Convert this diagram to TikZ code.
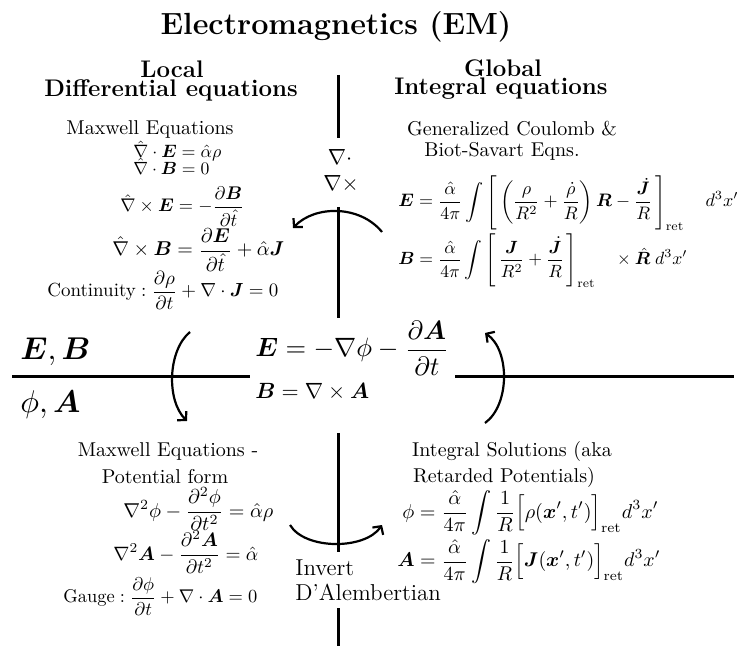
\documentclass[tikz,border=0pt]{standalone}
\usepackage{amsmath,bm,graphicx}
\usetikzlibrary{arrows.meta}
\newcommand{\fitw}[2]{\resizebox{#1}{!}{#2}}
\begin{document}
\begin{tikzpicture}[x=0.5pt,y=-0.5pt,
  axisline/.style={line width=1.5pt},
  turn/.style={line width=1.1pt,-{Straight Barb[length=3pt,width=6.5pt]}},
  eq/.style={anchor=base west,inner sep=0pt},
  lbl/.style={inner sep=0pt,font=\normalsize},
  head/.style={inner sep=0pt,font=\large\bfseries,anchor=base},
]
\useasboundingbox (0,0) rectangle (739,646);

% title and headings
\node[inner sep=0pt,font=\fontsize{15.3}{18}\selectfont\bfseries] (title) at (336,27) {Electromagnetics (EM)};
\node[head] (local) at (172,78) {Local};
\node[head] (diff) at (171,97) {Differential equations};
\node[head] (global) at (503,77) {Global};
\node[head] (integ) at (501,95) {Integral equations};

% axes
\coordinate (v1) at (338,75);  \coordinate (v2) at (338,138);
\coordinate (v3) at (338,207); \coordinate (v4) at (338,318);
\coordinate (v5) at (338,433); \coordinate (v6) at (338,552);
\coordinate (v7) at (338,608); \coordinate (v8) at (338,646);
\coordinate (h1) at (12,377);  \coordinate (h2) at (250,377);
\coordinate (h3) at (455,377); \coordinate (h4) at (734,377);
\draw[axisline] (v1) -- (v2);
\draw[axisline] (v3) -- (v4);
\draw[axisline] (v5) -- (v6);
\draw[axisline] (v7) -- (v8);
\draw[axisline] (h1) -- (h2);
\draw[axisline] (h3) -- (h4);

% centre operators
\node[inner sep=0pt,font=\fontsize{11}{13}\selectfont] (div) at (340,157) {$\nabla\cdot$};
\node[inner sep=0pt,font=\fontsize{11}{13}\selectfont] (curl) at (341,184) {$\nabla\times$};

% turning arrows
\coordinate (ta) at (382,232); \coordinate (tb) at (293,228);
\draw[turn] (ta) .. controls (360,205) and (315,205) .. (tb);
\coordinate (la) at (190,332); \coordinate (lb) at (187,421);
\draw[turn] (la) .. controls (168,350) and (166,400) .. (lb);
\coordinate (ra) at (485,423); \coordinate (rb) at (485,333);
\draw[turn] (ra) .. controls (510,405) and (510,350) .. (rb);
\coordinate (ba) at (290,525); \coordinate (bb) at (382,525);
\draw[turn] (ba) .. controls (305,550) and (365,550) .. (bb);

% top-left: Maxwell equations
\node[lbl] (mx) at (150,130) {Maxwell Equations};
\node[eq] (m1) at (133,158) {\fitw{44pt}{$\hat{\nabla}\cdot\bm{E}=\hat{\alpha}\rho$}};
\node[eq] (m2) at (133,175) {\fitw{38pt}{$\hat{\nabla}\cdot\bm{B}=0$}};
\node[eq] (m3) at (120,212) {\fitw{62pt}{$\hat{\nabla}\times\bm{E}=-\dfrac{\partial\bm{B}}{\partial\hat{t}}$}};
\node[eq] (m4) at (112,256) {\fitw{86pt}{$\hat{\nabla}\times\bm{B}=\dfrac{\partial\bm{E}}{\partial\hat{t}}+\hat{\alpha}\bm{J}$}};
\node[eq] (m5) at (47,297) {\fitw{115.5pt}{$\text{Continuity}:\dfrac{\partial\rho}{\partial t}+\nabla\cdot\bm{J}=0$}};

% top-right: Coulomb / Biot-Savart
\node[lbl] (gc) at (512,129) {Generalized Coulomb \&};
\node[lbl] (bs) at (502,151) {Biot-Savart Eqns.};
\node[eq] (je) at (398,207) {\fitw{170pt}{$\bm{E}=\dfrac{\hat{\alpha}}{4\pi}\displaystyle\int\left[\,\left(\frac{\rho}{R^2}+\frac{\dot{\rho}}{R}\right)\bm{R}-\frac{\dot{\bm{J}}}{R}\,\right]_{\mathrm{ret}}\quad d^3x'$}};
\node[eq] (jb) at (398,265) {\fitw{144.5pt}{$\bm{B}=\dfrac{\hat{\alpha}}{4\pi}\displaystyle\int\left[\,\frac{\bm{J}}{R^2}+\frac{\dot{\bm{J}}}{R}\,\right]_{\mathrm{ret}}\quad\times\hat{\bm{R}}\;d^3x'$}};

% centre
\node[eq] (eb) at (20,360) {\fitw{35pt}{$\bm{E},\bm{B}$}};
\node[eq] (pa) at (20,413) {\fitw{30pt}{$\phi,\bm{A}$}};
\node[eq] (ce) at (255,357) {\fitw{97pt}{$\bm{E}=-\nabla\phi-\dfrac{\partial\bm{A}}{\partial t}$}};
\node[eq] (cb) at (255,399) {\fitw{57pt}{$\bm{B}=\nabla\times\bm{A}$}};

% bottom-left: potential form
\node[lbl] (mp1) at (168,452) {Maxwell Equations -};
\node[lbl] (mp2) at (165,477) {Potential form};
\node[eq] (p1) at (123,517) {\fitw{75pt}{$\nabla^2\phi-\dfrac{\partial^2\phi}{\partial t^2}=\hat{\alpha}\rho$}};
\node[eq] (p2) at (113,560) {\fitw{72.5pt}{$\nabla^2\bm{A}-\dfrac{\partial^2\bm{A}}{\partial t^2}=\hat{\alpha}$}};
\node[eq] (p3) at (63,603) {\fitw{97pt}{$\text{Gauge}:\dfrac{\partial\phi}{\partial t}+\nabla\cdot\bm{A}=0$}};

% bottom-right: retarded potentials
\node[lbl] (is1) at (512,452) {Integral Solutions (aka};
\node[lbl] (is2) at (504,478) {Retarded Potentials)};
\node[eq] (r1) at (402,518) {\fitw{128pt}{$\phi=\dfrac{\hat{\alpha}}{4\pi}\displaystyle\int\frac{1}{R}\Big[\rho(\bm{x}',t')\Big]_{\mathrm{ret}}d^3x'$}};
\node[eq] (r2) at (397,567) {\fitw{131.5pt}{$\bm{A}=\dfrac{\hat{\alpha}}{4\pi}\displaystyle\int\frac{1}{R}\Big[\bm{J}(\bm{x}',t')\Big]_{\mathrm{ret}}d^3x'$}};

% invert label
\node[anchor=base west,inner sep=0pt,font=\fontsize{11.5}{14}\selectfont] (inv1) at (295,575) {Invert};
\node[anchor=base west,inner sep=0pt,font=\fontsize{11.5}{14}\selectfont] (inv2) at (295,600) {D'Alembertian};
\end{tikzpicture}
\end{document}
